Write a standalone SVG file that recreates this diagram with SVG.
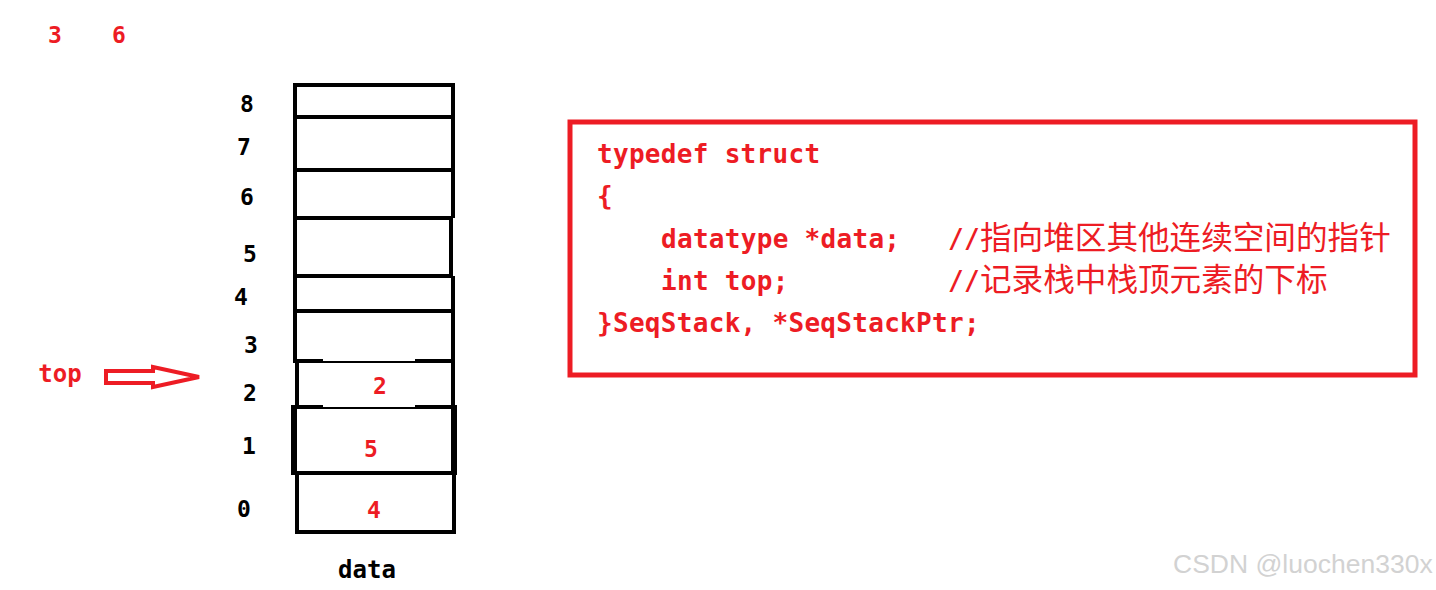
<svg xmlns="http://www.w3.org/2000/svg" width="1436" height="590" viewBox="0 0 1436 590">
<style>
.blk{font-family:"DejaVu Sans Mono","Liberation Mono",monospace;font-weight:bold;fill:#000}
.red{font-family:"DejaVu Sans Mono","Liberation Mono",monospace;font-weight:bold;fill:#ED1C24}
.idx{font-size:23px;text-anchor:middle}
.code{font-size:26px;letter-spacing:0.3px}
.cjk{font-family:"Noto Sans CJK SC",sans-serif;font-size:31.6px;fill:#ED1C24}
.ln{stroke:#000;stroke-width:4;fill:none}
.wm{font-family:"Liberation Sans",Arial,sans-serif;font-size:26.5px;fill:#d2d2d2}
</style>
<rect width="1436" height="590" fill="#fff"/>

<g id="top-numbers">
<text class="red idx" x="55" y="43">3</text>
<text class="red idx" x="119" y="43">6</text>
</g>

<g id="stack">
<line class="ln" x1="295" y1="85" x2="453" y2="85"/>
<line class="ln" x1="295" y1="117" x2="453" y2="117"/>
<line class="ln" x1="295" y1="170" x2="453" y2="170"/>
<line class="ln" x1="295" y1="218" x2="453" y2="218"/>
<line class="ln" x1="295" y1="276" x2="453" y2="276"/>
<line class="ln" x1="293" y1="311" x2="453" y2="311"/>
<line class="ln" x1="293" y1="361" x2="323" y2="361"/>
<line x1="323" y1="362" x2="415" y2="362" stroke="#000" stroke-width="2"/>
<line class="ln" x1="415" y1="361" x2="453" y2="361"/>
<line class="ln" x1="291" y1="407" x2="323" y2="407"/>
<line x1="323" y1="408" x2="415" y2="408" stroke="#000" stroke-width="2"/>
<line class="ln" x1="415" y1="407" x2="457" y2="407"/>
<line class="ln" x1="291" y1="473" x2="457" y2="473"/>
<line class="ln" x1="295" y1="532" x2="456" y2="532"/>
<line class="ln" x1="295" y1="83" x2="295" y2="311"/>
<line class="ln" x1="453" y1="83" x2="453" y2="218"/>
<line class="ln" x1="451" y1="218" x2="451" y2="276"/>
<line class="ln" x1="453" y1="276" x2="453" y2="407"/>
<line class="ln" x1="295" y1="311" x2="295" y2="361"/>
<line class="ln" x1="297" y1="361" x2="297" y2="407"/>
<line x1="294" y1="407" x2="294" y2="473" stroke="#000" stroke-width="6"/>
<line x1="454" y1="407" x2="454" y2="473" stroke="#000" stroke-width="6"/>
<line class="ln" x1="297" y1="473" x2="297" y2="534"/>
<line class="ln" x1="454" y1="473" x2="454" y2="534"/>
</g>

<g id="indices">
<text class="blk idx" x="247" y="112">8</text>
<text class="blk idx" x="244" y="155">7</text>
<text class="blk idx" x="247" y="205">6</text>
<text class="blk idx" x="250" y="262">5</text>
<text class="blk idx" x="241" y="305">4</text>
<text class="blk idx" x="251" y="353">3</text>
<text class="blk idx" x="250" y="401">2</text>
<text class="blk idx" x="249" y="454">1</text>
<text class="blk idx" x="244" y="517">0</text>
</g>

<g id="values">
<text class="red idx" x="380" y="394">2</text>
<text class="red idx" x="371" y="457">5</text>
<text class="red idx" x="374" y="518">4</text>
</g>

<text class="blk" x="367" y="578" font-size="24" text-anchor="middle">data</text>

<g id="top-label">
<text class="red" x="60" y="382" font-size="24" text-anchor="middle">top</text>
</g>

<g id="connectors">
<polygon points="106,371 153,371 153,367 199,377 153,387 153,383 106,383" fill="#fff" stroke="#ED1C24" stroke-width="4" stroke-linejoin="miter"/>
</g>

<g id="code-box">
<rect x="570" y="122" width="845" height="253" fill="none" stroke="#ED1C24" stroke-width="5"/>
<text class="red code" x="597" y="163">typedef struct</text>
<text class="red code" x="597" y="205">{</text>
<text class="red code" x="661" y="248">datatype *data;</text>
<text class="red code" x="948" y="248">//</text>
<text class="cjk" x="980" y="249">指向堆区其他连续空间的指针</text>
<text class="red code" x="661" y="290">int top;</text>
<text class="red code" x="948" y="290">//</text>
<text class="cjk" x="980" y="291">记录栈中栈顶元素的下标</text>
<text class="red code" x="597" y="332">}SeqStack, *SeqStackPtr;</text>
</g>

<text class="wm" x="1173" y="573">CSDN @luochen330x</text>
</svg>
